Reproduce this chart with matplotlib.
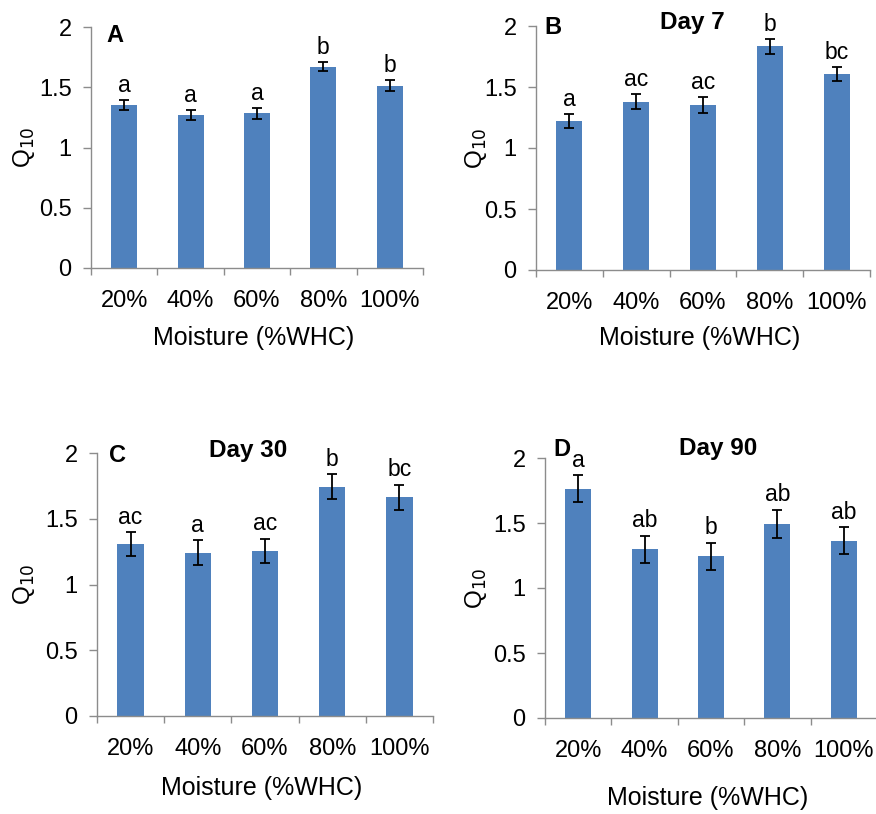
import matplotlib
matplotlib.use("Agg")
import matplotlib.pyplot as plt
import numpy as np

plt.rcParams['font.family'] = ['Liberation Sans', 'DejaVu Sans']

categories = ["20%", "40%", "60%", "80%", "100%"]

vals_A = [1.353, 1.270, 1.284, 1.671, 1.513]
err_A = [0.045, 0.045, 0.045, 0.037, 0.045]
let_A = ["a", "a", "a", "b", "b"]

vals_B = [1.224, 1.380, 1.352, 1.833, 1.607]
err_B = [0.058, 0.063, 0.063, 0.063, 0.060]
let_B = ["a", "ac", "ac", "b", "bc"]

vals_C = [1.308, 1.242, 1.255, 1.744, 1.665]
err_C = [0.090, 0.093, 0.093, 0.093, 0.095]
let_C = ["ac", "a", "ac", "b", "bc"]

vals_D = [1.764, 1.297, 1.244, 1.495, 1.364]
err_D = [0.105, 0.106, 0.106, 0.108, 0.105]
let_D = ["a", "ab", "b", "ab", "ab"]

panels = [
    dict(tag="A", title="", vals=vals_A, err=err_A, let=let_A,
         box=(91, 423, 27, 268), xlab_y=338, ylab_x=24, tag_xy=(115, 35)),
    dict(tag="B", title="Day 7", vals=vals_B, err=err_B, let=let_B,
         box=(536, 870, 26, 270), xlab_y=338, ylab_x=476, tag_xy=(553, 28),
         title_xy=(692, 22)),
    dict(tag="C", title="Day 30", vals=vals_C, err=err_C, let=let_C,
         box=(97, 433, 453, 716), xlab_y=788, ylab_x=24, tag_xy=(117, 455),
         title_xy=(248, 451)),
    dict(tag="D", title="Day 90", vals=vals_D, err=err_D, let=let_D,
         box=(545, 877, 458, 718), xlab_y=798, ylab_x=476, tag_xy=(562, 450),
         title_xy=(718, 448)),
]

W, H = 876, 814
fig = plt.figure(figsize=(W / 100, H / 100), dpi=100)

bar_color = "#4F81BD"
spine_color = "#8C8C8C"
FS = 16.5

for p in panels:
    l, r, t, b = p["box"]
    ax = fig.add_axes([l / W, 1 - b / H, (r - l) / W, (b - t) / H])
    x = np.arange(len(categories))
    ax.bar(x, p["vals"], width=0.39, color=bar_color, zorder=2)
    ax.errorbar(x, p["vals"], yerr=p["err"], fmt="none", ecolor="black",
                elinewidth=1.3, capsize=3.5, capthick=1.3, zorder=3)
    for xi, v, e, s in zip(x, p["vals"], p["err"], p["let"]):
        ax.text(xi, v + e + 0.025, s, ha="center", va="bottom", fontsize=FS)
    ax.set_xlim(-0.5, len(categories) - 0.5)
    ax.set_ylim(0, 2)
    ax.set_yticks([0, 0.5, 1, 1.5, 2])
    ax.set_yticklabels(["0", "0.5", "1", "1.5", "2"], fontsize=FS + 0.5)
    ax.set_xticks(x)
    ax.set_xticklabels(categories, fontsize=FS + 0.5)
    ax.tick_params(axis="x", which="major", length=0, pad=16)
    ax.set_xticks(np.arange(-0.5, len(categories)), minor=True)
    ax.tick_params(axis="x", which="minor", length=5, color=spine_color, width=1)
    ax.tick_params(axis="y", length=6, color=spine_color, width=1, pad=8)
    for s in ["top", "right"]:
        ax.spines[s].set_visible(False)
    for s in ["left", "bottom"]:
        ax.spines[s].set_color(spine_color)
        ax.spines[s].set_linewidth(1)
    tx, ty = p["tag_xy"]
    fig.text(tx / W, 1 - ty / H, p["tag"], fontsize=FS + 0.5,
             fontweight="bold", ha="center", va="center")
    if p["title"]:
        hx, hy = p["title_xy"]
        fig.text(hx / W, 1 - hy / H, p["title"],
                 fontsize=FS + 1, fontweight="bold", ha="center", va="center")
    fig.text(((l + r) / 2 - 3) / W, 1 - p["xlab_y"] / H, "Moisture (%WHC)",
             fontsize=FS + 1.5, ha="center", va="center")
    fig.text(p["ylab_x"] / W, 1 - ((t + b) / 2) / H, r"Q$_{10}$",
             fontsize=FS + 1, rotation=90, ha="center", va="center")

fig.savefig("out.png", dpi=100)
